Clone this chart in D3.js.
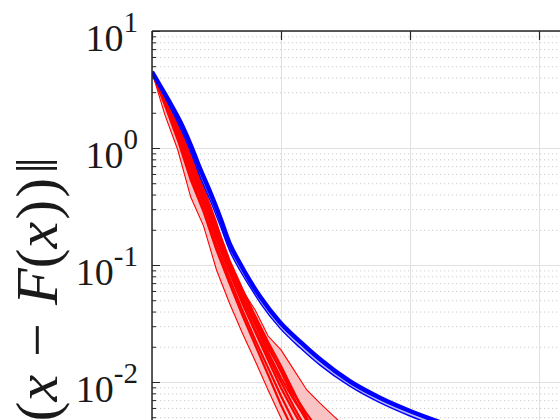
<!DOCTYPE html>
<html><head><meta charset="utf-8">
<script src="https://cdn.jsdelivr.net/npm/d3@7"></script>
<style>html,body{margin:0;padding:0;background:#fff;overflow:hidden}</style>
</head><body>
<svg id="chart" width="560" height="420"></svg>
<script>
// ---- data ----
const redIters = [0,10,20,30,40,50,60,70,80,90,100,110,120,130,140,150];
const blueIters = [0,6,14,22,30,37,45,53,60,68,76,84,99,115,130,153,177,200,223,247,270,300];
const blueMean = [4.47,3.45,2.43,1.67,1.06,0.675,0.421,0.252,0.154,0.104,0.073,0.0532,0.0326,0.022,0.0157,0.0102,0.0073,0.00565,0.00455,0.00374,0.00313,0.00262];
const blueLow  = [4.47,3.32,2.24,1.48,0.925,0.577,0.359,0.215,0.134,0.0906,0.0649,0.0473,0.029,0.0195,0.014,0.00925,0.00662,0.00512,0.00412,0.00339,0.00284,0.00238];
const redUpper = [4.46,2.68,1.60,0.906,0.473,0.233,0.100,0.0611,0.0412,0.0247,0.0188,0.0127,0.00855,0.00662,0.00522,0.00412];
const redLower = [4.46,1.92,0.961,0.381,0.215,0.0907,0.0473,0.0262,0.0151,0.00855,0.00492,0.00283];
const redRun1 = [4.46,2.57,1.43,0.716,0.359,0.180,0.0943,0.0522,0.0307,0.0180,0.0108,0.00702,0.00473,0.00319];
const redRun2 = [4.46,2.47,1.34,0.649,0.326,0.164,0.0871,0.0473,0.0268,0.0154,0.00889,0.00554,0.00352];
const redRun3 = [4.46,2.73,1.51,0.790,0.413,0.207,0.106,0.0588,0.0352,0.0207,0.0122,0.00730,0.00464,0.00301];
const redRun4 = [4.46,2.38,1.24,0.588,0.295,0.148,0.0774,0.0412,0.0229,0.0132,0.00759,0.00455,0.00289];
const redRun5 = [4.46,2.62,1.48,0.759,0.389,0.191,0.0981,0.0543,0.0326,0.0195,0.0127,0.00790,0.00533,0.00374,0.00262,0.00184];
const redRun6 = [4.46,2.33,1.17,0.533,0.284,0.134,0.0702,0.0374,0.0207,0.0115,0.00636,0.00374];
const redRun7 = [4.46,2.52,1.40,0.688,0.339,0.170,0.0889,0.0483,0.0278,0.0167,0.0100,0.00612,0.00389];
const redRun8 = [4.46,2.68,1.57,0.838,0.438,0.220,0.110,0.0624,0.0366,0.0220,0.0137,0.00821,0.00492,0.00319];
const yTickValues = [1e-4,1e-3,1e-2,1e-1,1,10];
const yTickLabelValues = [1e-2,1e-1,1,10];
const xTickValues = [0,100,200,300,400];

// ---- layout ----
const svg = d3.select("#chart");
const L = 152, T = 31, R = 668, B = 616;
const x = d3.scaleLinear().domain([0,400]).range([L,R]);
const y = d3.scaleLog().domain([1e-4,10]).range([B,T]);
const minorVals = [];
for (let e=-4;e<1;e++) for (let k=2;k<=9;k++) minorVals.push(k*Math.pow(10,e));

svg.append("defs").append("clipPath").attr("id","plot")
  .append("rect").attr("x",L).attr("y",T).attr("width",R-L).attr("height",B-T);

// grid
svg.append("g").attr("transform",`translate(${L},0)`)
  .call(d3.axisLeft(y).tickValues(minorVals).tickSize(-(R-L)).tickFormat(""))
  .call(g=>g.select(".domain").remove())
  .call(g=>g.selectAll("line").attr("stroke","#cdcdcd").attr("stroke-dasharray","1.2,2.8"));
svg.append("g").attr("transform",`translate(${L},0)`)
  .call(d3.axisLeft(y).tickValues(yTickValues).tickSize(-(R-L)).tickFormat(""))
  .call(g=>g.select(".domain").remove())
  .call(g=>g.selectAll("line").attr("stroke","#e0e0e0"));
svg.append("g").attr("transform",`translate(0,${T})`)
  .call(d3.axisTop(x).tickValues(xTickValues).tickSize(-(B-T)).tickFormat(""))
  .call(g=>g.select(".domain").remove())
  .call(g=>g.selectAll("line").attr("stroke","#e0e0e0"));

const plot = svg.append("g").attr("clip-path","url(#plot)");

// red band
const redRuns = [redUpper,redLower,redRun1,redRun2,redRun3,redRun4,redRun5,redRun6,redRun7,redRun8];
const redBand = redIters.map((it,i)=>{
  const vals = redRuns.filter(s=>s.length>i).map(s=>s[i]);
  return {it, lo:d3.min(vals), hi:d3.max(vals)};
});
plot.append("path").datum(redBand)
  .attr("fill","#f9c3c3")
  .attr("d",d3.area().x(d=>x(d.it)).y0(d=>y(d.lo)).y1(d=>y(d.hi)));

// blue band
const blueBand = blueIters.map((it,i)=>({it, lo:blueLow[i], hi:blueMean[i]}));
plot.append("path").datum(blueBand)
  .attr("fill","#b9b9f2")
  .attr("d",d3.area().curve(d3.curveMonotoneX).x(d=>x(d.it)).y0(d=>y(d.lo)).y1(d=>y(d.hi)));

const redLine = d3.line().x((d,i)=>x(redIters[i])).y(d=>y(d));
[redUpper,redLower].forEach(s=>plot.append("path").datum(s)
  .attr("fill","none").attr("stroke","#ff0000").attr("stroke-width",1.1).attr("d",redLine));
[redRun1,redRun2,redRun3,redRun4,redRun5,redRun6,redRun7,redRun8].forEach(s=>plot.append("path").datum(s)
  .attr("fill","none").attr("stroke","#ff0000").attr("stroke-width",2.2).attr("d",redLine));

const blueLine = d3.line().curve(d3.curveMonotoneX).x((d,i)=>x(blueIters[i])).y(d=>y(d));
plot.append("path").datum(blueLow).attr("fill","none").attr("stroke","#0000ff").attr("stroke-width",1.4).attr("d",blueLine);
plot.append("path").datum(blueMean).attr("fill","none").attr("stroke","#0000ff").attr("stroke-width",4.5).attr("d",blueLine);

// axes
const axisColor = "#262626";
const yAxis = svg.append("g").attr("transform",`translate(${L},0)`)
  .call(d3.axisLeft(y).tickValues(yTickValues).tickSizeInner(-8).tickSizeOuter(0).tickPadding(14)
        .tickFormat(d=>yTickLabelValues.includes(d)?"lbl":""))
  .call(g=>g.select(".domain").remove())
  .call(g=>g.selectAll("line").attr("stroke",axisColor).attr("stroke-width",1));
yAxis.selectAll(".tick text").each(function(d){
  const t = d3.select(this);
  if (!yTickLabelValues.includes(d)) { t.remove(); return; }
  const e = Math.round(Math.log10(d));
  t.text(null).attr("dy",null).attr("y",19)
    .attr("fill","#1a1a1a").style("font-family","'Liberation Serif','Times New Roman',serif").style("font-size","38px");
  t.append("tspan").text("10");
  t.append("tspan").attr("dy",-19).style("font-size","29px").text(e<0?"-"+(-e):String(e));
});
svg.append("g").attr("transform",`translate(${L},0)`)
  .call(d3.axisLeft(y).tickValues(minorVals).tickSizeInner(-4).tickSizeOuter(0).tickFormat(""))
  .call(g=>g.select(".domain").remove())
  .call(g=>g.selectAll("line").attr("stroke",axisColor).attr("stroke-width",1));
svg.append("g").attr("transform",`translate(0,${T})`)
  .call(d3.axisTop(x).tickValues(xTickValues).tickSizeInner(-9).tickSizeOuter(0).tickFormat(""))
  .call(g=>g.select(".domain").remove())
  .call(g=>g.selectAll("line").attr("stroke",axisColor).attr("stroke-width",1.2));
svg.append("line").attr("x1",L).attr("x2",L).attr("y1",T).attr("y2",B).attr("stroke",axisColor).attr("stroke-width",1.5);
svg.append("line").attr("x1",L).attr("x2",R).attr("y1",T).attr("y2",T).attr("stroke",axisColor).attr("stroke-width",1.5);

// y label
const lab = svg.append("text").attr("transform","translate(57,157) rotate(-90)")
  .attr("text-anchor","end").attr("fill","#1a1a1a")
  .style("font-family","'Liberation Serif','Times New Roman',serif").style("font-size","60px");
[["\u2016",false,0],["(",false,0],["x",true,0],["\u2212",false,18],["F",true,18],["(",false,0],["x",true,0],[")",false,2],[")",false,2],["\u2016",false,4]]
  .forEach(([s,it,dx])=>lab.append("tspan").attr("dx",dx).style("font-style",it?"italic":"normal").text(s));
</script>
</body></html>
